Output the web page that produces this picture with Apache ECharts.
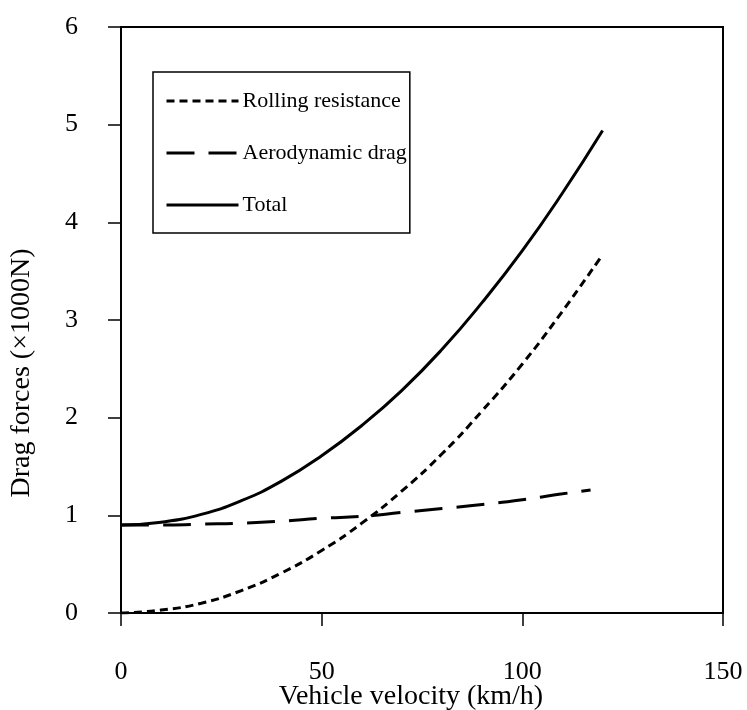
<!DOCTYPE html>
<html>
<head>
    <meta charset="utf-8">
    <title>drag forces</title>
    <style type="text/css">
        * { margin: 0; padding: 0; }
        body { background: #fff; }
        #chart { width: 747px; height: 710px; }
    </style>
</head>
<body>
<div id="chart"></div>
<script src="https://cdn.jsdelivr.net/npm/echarts@6/dist/echarts.min.js"></script>
<script type="text/javascript">
    // velocities (km/h)
    var speeds = [0, 10, 20, 30, 40, 50, 60, 70, 80, 90, 100, 110, 120];
    var aeroSpeeds = [0, 10, 20, 30, 40, 50, 60, 70, 80, 90, 100, 110, 117];

    // forces (x1000 N)
    var rolling = [0, 0.03, 0.10, 0.23, 0.41, 0.64, 0.92, 1.25, 1.63, 2.07, 2.55, 3.09, 3.67];
    var aero = [0.90, 0.90, 0.91, 0.92, 0.94, 0.97, 0.99, 1.03, 1.07, 1.11, 1.16, 1.22, 1.26];
    var total = [0.90, 0.93, 1.01, 1.15, 1.35, 1.61, 1.92, 2.28, 2.70, 3.18, 3.71, 4.30, 4.94];

    var names = ['Rolling resistance', 'Aerodynamic drag', 'Total'];

    function pairs(xs, ys) {
        return xs.map(function (x, i) { return [x, ys[i]]; });
    }

    var font = 'Liberation Serif';
    var chart = echarts.init(document.getElementById('chart'));

    var option = {
        animation: false,
        textStyle: { fontFamily: font, color: '#000' },
        grid: {
            left: 121, right: 24, top: 27, bottom: 97,
            outerBoundsMode: 'none',
            containLabel: false,
            show: true, borderColor: '#000', borderWidth: 2
        },
        legend: {
            orient: 'vertical',
            left: 153, top: 72,
            data: names,
            itemWidth: 72,
            itemHeight: 14,
            itemGap: 30,
            padding: [18, 3, 17, 12],
            borderColor: '#000',
            borderWidth: 1.5,
            lineStyle: { width: 3 },
            itemStyle: { color: 'rgba(0,0,0,0)', borderWidth: 0, opacity: 0 },
            textStyle: { fontFamily: font, fontSize: 22, color: '#000', padding: [0, 0, 0, -1] }
        },
        xAxis: {
            type: 'value',
            min: 0, max: 150, interval: 50,
            name: 'Vehicle velocity (km/h)',
            nameLocation: 'middle',
            nameGap: 70,
            nameMoveOverlap: false,
            nameTextStyle: { fontFamily: font, fontSize: 28, color: '#000', padding: [0, 22, 0, 0] },
            axisLine: { lineStyle: { color: '#000', width: 2 } },
            axisTick: { show: true, length: 13, lineStyle: { color: '#000', width: 1.5 } },
            axisLabel: { margin: 46, fontFamily: font, fontSize: 26, color: '#000' },
            splitLine: { show: false }
        },
        yAxis: {
            type: 'value',
            min: 0, max: 6, interval: 1,
            name: 'Drag forces (×1000N)',
            nameLocation: 'middle',
            nameGap: 85,
            nameMoveOverlap: false,
            nameTextStyle: { fontFamily: font, fontSize: 28, color: '#000', padding: [0, 106, 0, 0] },
            axisLine: { show: true, lineStyle: { color: '#000', width: 2 } },
            axisTick: { show: true, length: 13, lineStyle: { color: '#000', width: 1.5 } },
            axisLabel: { margin: 43, fontFamily: font, fontSize: 26, color: '#000' },
            splitLine: { show: false }
        },
        series: [
            {
                name: names[0],
                type: 'line',
                symbol: 'none',
                smooth: true,
                data: pairs(speeds, rolling),
                lineStyle: { color: '#000', width: 3, type: [8, 5] },
                itemStyle: { color: '#000' }
            },
            {
                name: names[1],
                type: 'line',
                symbol: 'none',
                smooth: true,
                data: pairs(aeroSpeeds, aero),
                lineStyle: { color: '#000', width: 3, type: [28, 14] },
                itemStyle: { color: '#000' }
            },
            {
                name: names[2],
                type: 'line',
                symbol: 'none',
                smooth: true,
                data: pairs(speeds, total),
                lineStyle: { color: '#000', width: 3, type: 'solid' },
                itemStyle: { color: '#000' }
            }
        ]
    };

    chart.setOption(option);
</script>
</body>
</html>
